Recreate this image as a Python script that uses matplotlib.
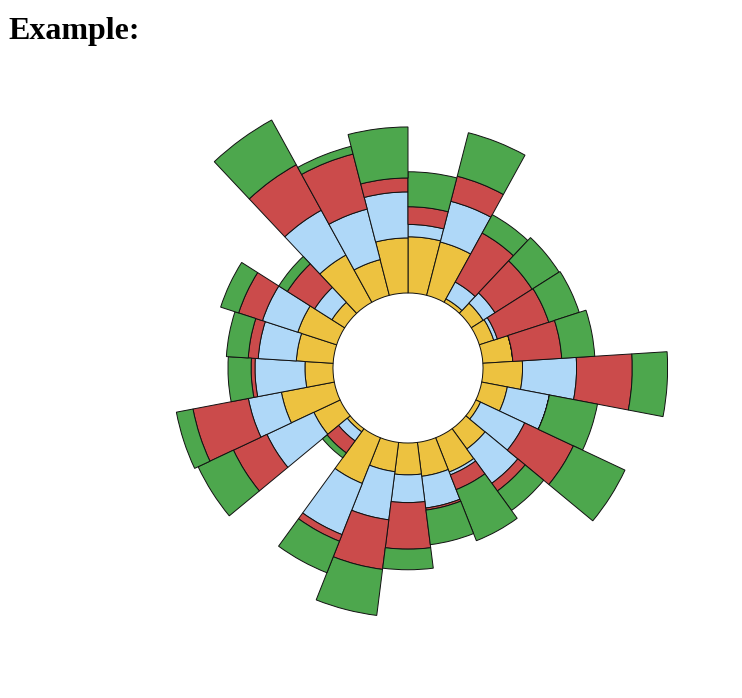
import numpy as np
import matplotlib.pyplot as plt

# one bar per slot, clockwise from 12 o'clock
labels = [f"C{i + 1}" for i in range(25)]
series_names = ["A", "B", "C", "D"]
colors = ["#edc240", "#afd8f8", "#cb4b4b", "#4da74d"]

yellow = [11.6, 11.3, 0.6, 2.3, 2.5, 5.4, 7.5, 4.6, 0.8, 4.4, 6.9, 6.3, 5.8,
          5.3, 9.8, 0.6, 5.2, 11.0, 5.0, 6.9, 7.8, 2.5, 11.0, 6.9, 11.3]
blue = [3.4, 12.7, 3.4, 2.7, 0.7, 0.0, 15.3, 10.5, 10.2, 10.3, 0.7, 8.0, 6.7,
        12.5, 16.7, 1.9, 13.5, 9.8, 12.8, 10.0, 10.0, 4.1, 15.8, 14.4, 14.1]
red = [5.4, 9.6, 14.1, 11.0, 13.1, 12.7, 21.9, 0.0, 16.8, 2.8, 3.9, 0.6, 14.7,
       17.8, 2.6, 2.9, 12.9, 21.5, 1.2, 3.1, 8.3, 8.2, 21.4, 21.9, 5.1]
green = [12.5, 19.8, 6.9, 10.4, 10.5, 11.3, 17.1, 16.5, 24.1, 7.9, 17.4, 11.2, 7.9,
         21.0, 13.8, 1.3, 16.6, 7.7, 7.8, 7.5, 7.1, 3.0, 26.3, 3.6, 22.0]

inner_r = 75
outer_r = 283


def radial(v, vmax):
    # area-proportional radius, like d3.scaleRadial
    return np.sqrt(inner_r ** 2 + (outer_r ** 2 - inner_r ** 2) * np.asarray(v) / vmax)


data = np.array([yellow, blue, red, green])
totals = data.sum(axis=0)
vmax = totals.max()

n = len(labels)
theta = np.arange(n) * 2 * np.pi / n
width = 2 * np.pi / n

fig = plt.figure(figsize=(7.42, 6.98), dpi=100)
# axes box sized so one radial unit = one pixel, centred at (408, 368)
R = 300
ax = fig.add_axes([(408 - R) / 742, (698 - 368 - R) / 698, 2 * R / 742, 2 * R / 698],
                  projection="polar")
ax.set_theta_zero_location("N")
ax.set_theta_direction(-1)
ax.set_ylim(0, R)
ax.set_axis_off()

base = np.zeros(n)
for vals, name, col in zip(data, series_names, colors):
    top = base + vals
    r_in = radial(base, vmax)
    r_out = radial(top, vmax)
    ax.bar(theta, r_out - r_in, width=width, bottom=r_in, align="edge",
           color=col, edgecolor="#111111", linewidth=0.7, label=name)
    base = top

fig.text(8 / 742, 1 - 38.5 / 698, "Example:", fontsize=23, fontweight="bold",
         family="Liberation Serif", va="baseline", ha="left")

plt.savefig("out.png", dpi=100)
